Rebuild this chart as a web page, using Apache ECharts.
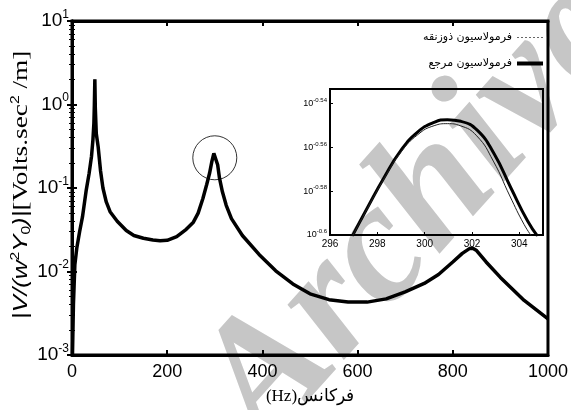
<!DOCTYPE html>
<html>
<head>
    <meta charset="utf-8">
    <title>پاسخ فرکانسی</title>
    <script src="https://cdn.jsdelivr.net/npm/echarts@6/dist/echarts.min.js"></script>
    <style>
        html, body { margin: 0; padding: 0; background: #fff; }
        #main { width: 571px; height: 410px; }
    </style>
</head>
<body>
<div id="main"></div>
<script type="text/javascript">
    // main plot: frequency (Hz) vs |V/(w^2 Y0)|
    var freq = [1, 3, 6, 10, 16, 22, 30, 36, 41, 44, 46, 47, 48, 49, 51, 55, 60, 65, 72, 80, 95, 114, 130, 150, 170, 185, 200, 220, 240, 255, 265, 275, 283, 289, 294, 298, 300, 302, 306, 310, 316, 324, 335, 358, 393, 428, 464, 500, 540, 580, 620, 660, 700, 740, 770, 800, 820, 835, 842, 850, 870, 900, 950, 1000];
    var refAmp = [0.001, 0.004, 0.012, 0.019, 0.03, 0.045, 0.095, 0.15, 0.24, 0.38, 0.6, 1.0, 2.0, 0.9, 0.45, 0.31, 0.16, 0.1, 0.068, 0.052, 0.04, 0.031, 0.027, 0.025, 0.0238, 0.0234, 0.0236, 0.0262, 0.032, 0.039, 0.05, 0.075, 0.11, 0.15, 0.21, 0.26, 0.27, 0.25, 0.19, 0.13, 0.09, 0.062, 0.043, 0.027, 0.016, 0.0102, 0.0071, 0.0054, 0.0046, 0.0043, 0.0043, 0.0047, 0.0057, 0.0072, 0.0092, 0.013, 0.0165, 0.0188, 0.019, 0.0178, 0.013, 0.0085, 0.0045, 0.0027];
    var trapAmp = [0.001, 0.004, 0.012, 0.019, 0.03, 0.045, 0.095, 0.15, 0.24, 0.38, 0.6, 1.0, 2.0, 0.9, 0.45, 0.31, 0.16, 0.1, 0.068, 0.052, 0.04, 0.031, 0.027, 0.025, 0.0238, 0.0234, 0.0236, 0.0262, 0.032, 0.039, 0.05, 0.075, 0.11, 0.15, 0.21, 0.26, 0.27, 0.25, 0.19, 0.13, 0.09, 0.062, 0.043, 0.027, 0.016, 0.0102, 0.0071, 0.0054, 0.0046, 0.0043, 0.0043, 0.0047, 0.0057, 0.0072, 0.0092, 0.013, 0.0165, 0.0188, 0.019, 0.0178, 0.013, 0.0085, 0.0045, 0.0027];

    // inset: zoom around the 300 Hz peak (amplitudes)
    var zoomFreqRef = [296.94, 297.58, 298.28, 298.99, 299.7, 300.4, 300.96, 301.53, 302.23, 302.94, 303.64, 304.35, 304.77];
    var zoomAmpRef = [0.2509, 0.2585, 0.2668, 0.2745, 0.2799, 0.2828, 0.2836, 0.2831, 0.2804, 0.2735, 0.264, 0.2549, 0.2509];
    var zoomFreqTrap = [296.94, 297.58, 298.28, 298.99, 299.7, 300.4, 300.96, 301.5, 302.2, 302.9, 303.6, 304.2, 304.56];
    var zoomAmpTrap = [0.2508, 0.2583, 0.2665, 0.274, 0.2791, 0.2818, 0.2824, 0.2818, 0.2788, 0.2715, 0.2617, 0.254, 0.2505];

    // the ring drawn round the 300 Hz peak
    var circleAt = [[300, 0.23]];

    var nameTrap = 'فرمولاسیون ذوزنقه';
    var nameRef = 'فرمولاسیون مرجع';

    function pairs(xs, ys) {
        var out = [];
        for (var i = 0; i < xs.length; i++) out.push([xs[i], ys[i]]);
        return out;
    }
    // the inset axis is graduated in decades (exponent of 10), echarts log axis
    // only ticks whole decades, so plot the exponent on a value axis instead
    function logPairs(xs, ys) {
        var out = [];
        for (var i = 0; i < xs.length; i++) out.push([xs[i], Math.log10(ys[i])]);
        return out;
    }

    var sans = 'Liberation Sans';

    var dom = document.getElementById('main');
    var myChart = echarts.init(dom, null, {renderer: 'canvas'});

    var option = {
        animation: false,
        backgroundColor: '#fff',
        grid: [
            {left: 72, top: 21, right: 21, bottom: 47, show: true, borderColor: '#000', borderWidth: 3, z: 1},
            {left: 330, top: 89, right: 28, bottom: 175, show: true, borderColor: '#000', borderWidth: 2, backgroundColor: 'transparent', z: 5}
        ],
        legend: {
            orient: 'vertical',
            right: 23,
            top: 27,
            align: 'right',
            itemWidth: 26,
            itemHeight: 10,
            itemGap: 15,
            data: [
                {name: nameTrap, icon: 'path://M0 0H2V1H0Z M4 0H6V1H4Z M8 0H10V1H8Z M12 0H14V1H12Z M16 0H18V1H16Z M20 0H22V1H20Z M24 0H26V1H24Z', itemStyle: {color: '#666'}},
                {name: nameRef, icon: 'path://M0 0H26V4H0Z', itemStyle: {color: '#000'}}
            ],
            textStyle: {fontFamily: 'DejaVu Sans', fontSize: 11, color: '#000'}
        },
        xAxis: [
            {
                gridIndex: 0, type: 'value', min: 0, max: 1000, interval: 200,
                name: '(Hz)فركانس', nameLocation: 'middle', nameGap: 33,
                nameTextStyle: {fontFamily: 'Liberation Serif', fontSize: 17, color: '#000'},
                axisLine: {lineStyle: {color: '#000', width: 3}},
                axisTick: {inside: true, length: 5, lineStyle: {color: '#000', width: 2}},
                axisLabel: {
                    fontFamily: sans, fontSize: 18, color: '#000', margin: 8,
                    formatter: function (v) { return String(v); }
                },
                splitLine: {show: false}
            },
            {
                gridIndex: 0, type: 'value', position: 'top', min: 0, max: 1000, interval: 200,
                axisLine: {lineStyle: {color: '#000', width: 3}},
                axisTick: {inside: true, length: 5, lineStyle: {color: '#000', width: 2}},
                axisLabel: {show: false},
                splitLine: {show: false}
            },
            {
                gridIndex: 1, type: 'value', min: 296, max: 305, interval: 2,
                axisLine: {lineStyle: {color: '#000', width: 2}},
                axisTick: {inside: true, length: 3, lineStyle: {color: '#000'}},
                axisLabel: {fontFamily: sans, fontSize: 10, color: '#000', margin: 4, showMaxLabel: false},
                splitLine: {show: false}
            }
        ],
        yAxis: [
            {
                gridIndex: 0, type: 'log', logBase: 10, min: 0.001, max: 10,
                axisLine: {lineStyle: {color: '#000', width: 3}},
                axisTick: {inside: true, length: 5, lineStyle: {color: '#000', width: 2}},
                minorTick: {show: true, splitNumber: 9, length: 3, lineStyle: {color: '#000', width: 1}},
                axisLabel: {
                    margin: 3,
                    formatter: function (v) {
                        return '{b|10}{e|' + Math.round(Math.log10(v)) + '}';
                    },
                    rich: {
                        b: {fontFamily: sans, fontSize: 19, color: '#000'},
                        e: {fontFamily: sans, fontSize: 12, color: '#000', padding: [0, 0, 13, 0]}
                    }
                },
                splitLine: {show: false}
            },
            {
                gridIndex: 0, type: 'log', logBase: 10, min: 0.001, max: 10, position: 'right',
                axisLine: {lineStyle: {color: '#000', width: 3}},
                axisTick: {inside: true, length: 5, lineStyle: {color: '#000', width: 2}},
                minorTick: {show: true, splitNumber: 9, length: 3, lineStyle: {color: '#000', width: 1}},
                axisLabel: {show: false},
                splitLine: {show: false}
            },
            {
                gridIndex: 1, type: 'value', min: -0.6, max: -0.5333, interval: 0.02,
                axisLine: {lineStyle: {color: '#000', width: 2}},
                axisTick: {inside: true, length: 3, lineStyle: {color: '#000'}},
                axisLabel: {
                    margin: 3, showMaxLabel: false,
                    formatter: function (v) {
                        return '{b|10}{e|' + (Math.round(v * 100) / 100) + '}';
                    },
                    rich: {
                        b: {fontFamily: sans, fontSize: 9, color: '#000'},
                        e: {fontFamily: sans, fontSize: 6, color: '#000', padding: [0, 0, 7, 0]}
                    }
                },
                splitLine: {show: false}
            }
        ],
        series: [
            {
                name: nameTrap, type: 'line', xAxisIndex: 0, yAxisIndex: 0, symbol: 'none',
                itemStyle: {color: '#666'},
                lineStyle: {color: '#666', width: 1, type: 'dotted'},
                data: pairs(freq, trapAmp), z: 1
            },
            {
                name: nameRef, type: 'line', xAxisIndex: 0, yAxisIndex: 0, symbol: 'none',
                itemStyle: {color: '#000'},
                lineStyle: {color: '#000', width: 3.5},
                data: pairs(freq, refAmp), z: 2
            },
            {
                type: 'scatter', xAxisIndex: 0, yAxisIndex: 0, symbol: 'circle', symbolSize: 44,
                itemStyle: {color: 'rgba(0,0,0,0)', borderColor: '#000', borderWidth: 1},
                data: circleAt, z: 3, silent: true
            },
            {
                name: nameRef, type: 'line', xAxisIndex: 2, yAxisIndex: 2, symbol: 'none', smooth: true,
                itemStyle: {color: '#000'},
                lineStyle: {color: '#000', width: 3},
                data: logPairs(zoomFreqRef, zoomAmpRef), z: 6
            },
            {
                name: nameTrap, type: 'line', xAxisIndex: 2, yAxisIndex: 2, symbol: 'none', smooth: true,
                itemStyle: {color: '#666'},
                lineStyle: {color: '#222', width: 1},
                data: logPairs(zoomFreqTrap, zoomAmpTrap), z: 7
            }
        ],
        graphic: [
            {
                // y axis title, stretched along its length like the source figure
                type: 'text', x: 21, y: 185, rotation: Math.PI / 2, scaleX: 1.3, z: 50,
                style: {
                    text: '{it||V/(w}{sup|2}{it|Y}{sub|0}{it|)|}{rm|[Volts.sec}{sup|2}{rm| /m]}',
                    textAlign: 'center',
                    textVerticalAlign: 'middle',
                    rich: {
                        it: {fontFamily: sans, fontStyle: 'italic', fontSize: 20, fill: '#000'},
                        rm: {fontFamily: 'Liberation Serif', fontSize: 21, fill: '#000'},
                        sup: {fontFamily: sans, fontSize: 12, fill: '#000', padding: [0, 0, 11, 0]},
                        sub: {fontFamily: sans, fontSize: 12, fill: '#000', padding: [11, 0, 0, 0]}
                    }
                }
            },
            {
                // watermark, kept behind the plot so lines and text stay black
                type: 'text', x: 296, y: 476, rotation: 0.84, z: -10,
                style: {
                    text: 'Archive',
                    font: 'italic bold 172px "Liberation Serif"',
                    fill: '#c6c6c6',
                    textAlign: 'left',
                    textVerticalAlign: 'bottom'
                }
            }
        ]
    };

    myChart.setOption(option);
</script>
</body>
</html>
